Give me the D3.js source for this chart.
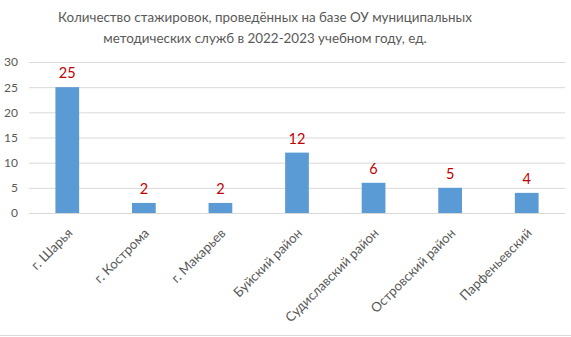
<!DOCTYPE html>
<html>
<head>
<meta charset="utf-8">
<script src="https://cdn.jsdelivr.net/npm/d3@7"></script>
<style>
  html, body { margin: 0; padding: 0; background: #fff; }
  svg { display: block; font-family: Lato, "Open Sans", sans-serif; }
</style>
</head>
<body>
<svg id="chart" width="571" height="337"></svg>
<script>
// Internship counts by municipality, 2022-2023 school year
const categories = ["г. Шарья", "г. Кострома", "г. Макарьев", "Буйский район", "Судиславский район", "Островский район", "Парфеньевский"];
const values = [25, 2, 2, 12, 6, 5, 4];
const yTicks = [0, 5, 10, 15, 20, 25, 30];
const titleLines = ["Количество стажировок, проведённых на базе ОУ муниципальных", "методических служб в 2022-2023 учебном году, ед."];

const svg = d3.select("#chart");
const W = 571, H = 337;
const plot = { left: 29, right: 565, top: 62, bottom: 213 };

const x = d3.scaleBand().domain(categories).range([plot.left, plot.right]).paddingInner(0.69).paddingOuter(0.345);
const y = d3.scaleLinear().domain([0, 30]).range([plot.bottom, plot.top]);

// title
svg.append("g").selectAll("text").data(titleLines).join("text")
  .attr("x", 265).attr("y", (d, i) => 22 + i * 21)
  .attr("text-anchor", "middle")
  .attr("font-size", 13.4)
  .attr("fill", "#595959")
  .text(d => d);

// gridlines + y axis labels
const yAxis = d3.axisLeft(y).tickValues(yTicks).tickSize(-(plot.right - plot.left)).tickPadding(11);
const gy = svg.append("g").attr("transform", `translate(${plot.left},0)`).call(yAxis);
gy.select(".domain").remove();
gy.selectAll(".tick line").attr("stroke", "#d9d9d9").attr("stroke-width", 1);
gy.selectAll(".tick text").attr("fill", "#595959").attr("font-size", 12).attr("font-family", "Lato, sans-serif");

// bars
svg.append("g").selectAll("rect").data(values).join("rect")
  .attr("x", (d, i) => x(categories[i]))
  .attr("width", x.bandwidth())
  .attr("y", d => y(d))
  .attr("height", d => y(0) - y(d))
  .attr("fill", "#5b9bd5");

// value labels
svg.append("g").selectAll("text").data(values).join("text")
  .attr("x", (d, i) => x(categories[i]) + x.bandwidth() / 2)
  .attr("y", d => y(d) - 9)
  .attr("text-anchor", "middle")
  .attr("font-size", 14.5)
  .attr("fill", "#c00000")
  .text(d => d);

// category axis with rotated labels
const xAxis = d3.axisBottom(x).tickSize(0).tickPadding(0);
const gx = svg.append("g").attr("transform", `translate(0,${plot.bottom})`).call(xAxis);
gx.select(".domain").remove();
gx.selectAll(".tick text")
  .attr("fill", "#595959")
  .attr("font-size", 13.2)
  .attr("font-family", "Lato, sans-serif")
  .attr("text-anchor", "end")
  .attr("dy", null)
  .attr("transform", "translate(6,21) rotate(-45)");

// bottom frame line
svg.append("line").attr("x1", 0).attr("x2", W).attr("y1", 335.5).attr("y2", 335.5)
  .attr("stroke", "#d9d9d9").attr("stroke-width", 1);
</script>
</body>
</html>
